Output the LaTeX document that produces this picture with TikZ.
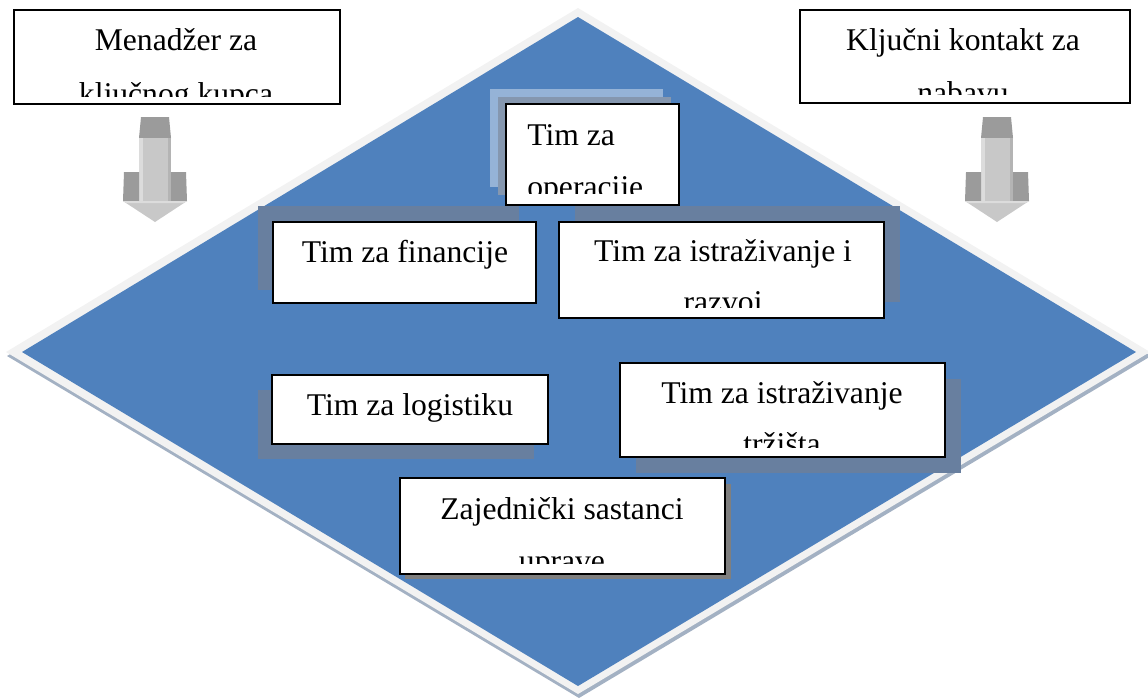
\documentclass[tikz,border=0pt]{standalone}
\usepackage{fontspec}
\setmainfont{Liberation Serif}
\usetikzlibrary{fit}

\definecolor{diamondblue}{HTML}{4F81BD}
\definecolor{rimgray}{HTML}{F2F2F2}
\definecolor{rimshadow}{HTML}{A3B1C3}
\definecolor{teamshadow}{HTML}{687F9F}
\definecolor{opslight}{HTML}{95B3D7}
\definecolor{opsmid}{HTML}{8597AF}
\definecolor{meetshadow}{HTML}{7F7F7F}
\definecolor{arrowlight}{HTML}{C8C8C8}
\definecolor{arrowpale}{HTML}{DCDCDC}
\definecolor{arrowmid}{HTML}{B4B4B4}
\definecolor{arrowdark}{HTML}{9B9B9B}

\begin{document}
\begin{tikzpicture}[
		x = 0.02cm, % one pixel of the layout
		y = -0.02cm, % pixels counted downwards
		inner sep = 0pt
	]
	
	\tikzstyle{card}=[
	draw = black,
	line width = 1.1pt,
	fill = white,
	inner sep = 0pt
	]
	
	\tikzstyle{caption}=[
	font = \fontsize{18}{22}\selectfont,
	anchor = base,
	inner sep = 0pt
	]
	
	\useasboundingbox (0,0) rectangle (1148,698);
	
	% the diamond
	\fill[rimshadow] (579,12) -- (7,356) -- (579,698) -- (1151,356) -- cycle;
	\fill[rimgray] (578,8) -- (6,352) -- (578,694) -- (1150,352) -- cycle;
	\fill[diamondblue] (578,17) -- (22,352) -- (578,686) -- (1136,352) -- cycle;
	
	% down arrows
	\fill[arrowdark] (141,117) -- (169,117) -- (171,138) -- (139,138) -- cycle;
	\fill[arrowlight] (139,138) rectangle (171,201);
	\fill[arrowpale] (139,138) rectangle (143,201);
	\fill[arrowmid] (168,138) rectangle (171,201);
	\fill[arrowdark] (124,172) -- (139,172) -- (139,201) -- (123,201) -- cycle;
	\fill[arrowdark] (171,172) -- (186,172) -- (187,201) -- (171,201) -- cycle;
	\fill[arrowlight] (123,201) -- (187,201) -- (155,222) -- cycle;
	\fill[arrowpale] (123,201) -- (187,201) -- (184,203) -- (126,203) -- cycle;
	
	\fill[arrowdark] (983,117) -- (1011,117) -- (1013,138) -- (981,138) -- cycle;
	\fill[arrowlight] (981,138) rectangle (1013,201);
	\fill[arrowpale] (981,138) rectangle (985,201);
	\fill[arrowmid] (1010,138) rectangle (1013,201);
	\fill[arrowdark] (966,172) -- (981,172) -- (981,201) -- (965,201) -- cycle;
	\fill[arrowdark] (1013,172) -- (1028,172) -- (1029,201) -- (1013,201) -- cycle;
	\fill[arrowlight] (965,201) -- (1029,201) -- (997,222) -- cycle;
	\fill[arrowpale] (965,201) -- (1029,201) -- (1026,203) -- (968,203) -- cycle;
	
	% outside boxes
	\node[card, fit={(14,10) (340,104)}] (manager) {};
	\node[caption] (manager1) at (176,50) {Menadžer za};
	\begin{scope}
		\clip (15,11) rectangle (339,96);
		\node[caption] (manager2) at (176,104) {ključnog kupca};
	\end{scope}
	
	\node[card, fit={(800,10) (1130,103)}] (contact) {};
	\node[caption] (contact1) at (963,50) {Ključni kontakt za};
	\begin{scope}
		\clip (801,11) rectangle (1129,94);
		\node[caption] (contact2) at (963,103) {nabavu};
	\end{scope}
	
	% shadows of the teams
	\fill[opslight] (490,89) rectangle (663,187);
	\fill[opsmid] (498,97) rectangle (671,195);
	\fill[teamshadow] (258,206) rectangle (519,290);
	\fill[teamshadow] (575,206) rectangle (900,302);
	\fill[teamshadow] (258,390) rectangle (534,459);
	\fill[teamshadow] (636,379) rectangle (961,473);
	\fill[meetshadow] (405,484) rectangle (731,579);
	
	% teams
	\node[card, fit={(506,104) (679,205)}] (ops) {};
	\node[caption, anchor=base west] (ops1) at (527,145) {Tim za};
	\begin{scope}
		\clip (507,105) rectangle (678,193);
		\node[caption, anchor=base west] (ops2) at (527,197) {operacije};
	\end{scope}
	
	\node[card, fit={(273,222) (536,303)}] (finance) {};
	\node[caption] (finance1) at (405,262) {Tim za financije};
	
	\node[card, fit={(559,222) (884,318)}] (rnd) {};
	\node[caption] (rnd1) at (723,261) {Tim za istraživanje i};
	\begin{scope}
		\clip (560,223) rectangle (883,307);
		\node[caption] (rnd2) at (723,312) {razvoj};
	\end{scope}
	
	\node[card, fit={(272,375) (548,444)}] (logistics) {};
	\node[caption] (logistics1) at (410,415) {Tim za logistiku};
	
	\node[card, fit={(620,363) (945,457)}] (market) {};
	\node[caption] (market1) at (782,403) {Tim za istraživanje};
	\begin{scope}
		\clip (621,364) rectangle (944,447);
		\node[caption] (market2) at (782,454) {tržišta};
	\end{scope}
	
	\node[card, line width=1.5pt, fit={(400,478) (725,574)}] (meetings) {};
	\node[caption] (meetings1) at (562,519) {Zajednički sastanci};
	\begin{scope}
		\clip (401,479) rectangle (724,563);
		\node[caption] (meetings2) at (562,571) {uprave};
	\end{scope}
\end{tikzpicture}
\end{document}
